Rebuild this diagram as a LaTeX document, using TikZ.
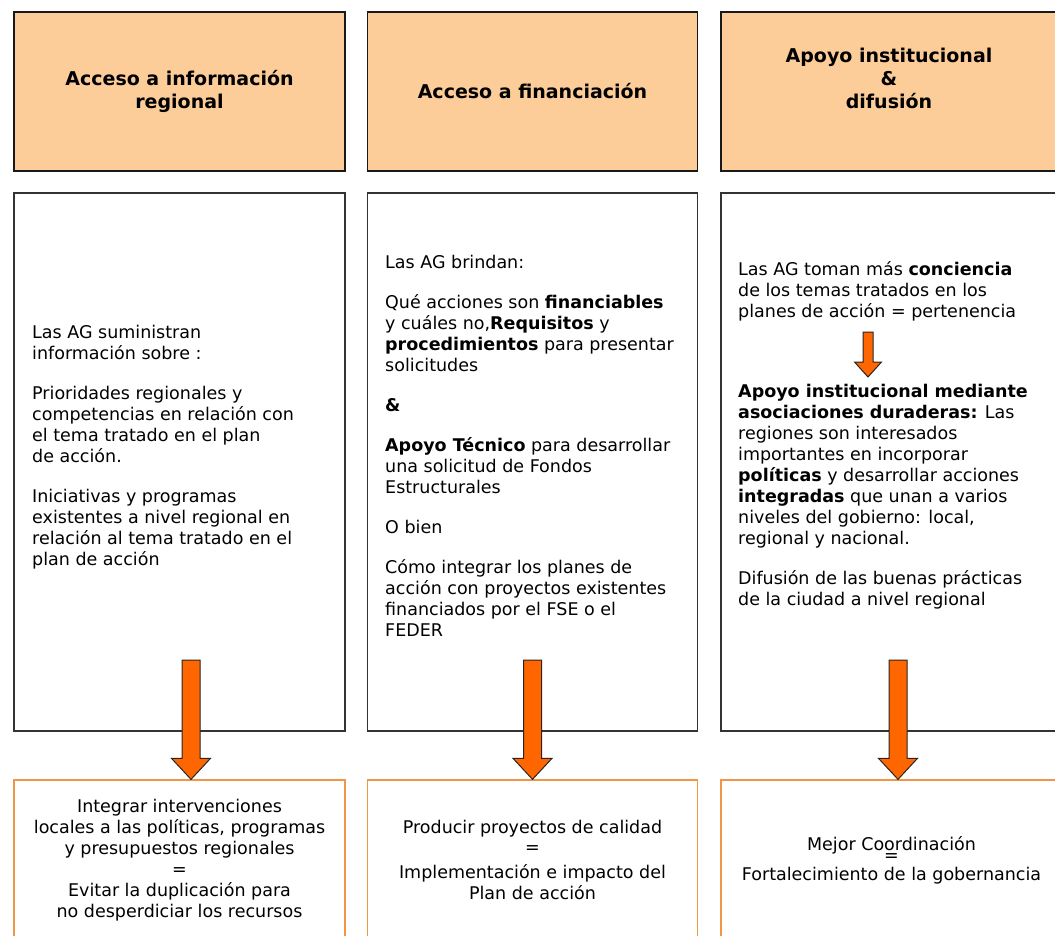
\documentclass[tikz,border=0pt]{standalone}
\usepackage{fontspec}
\setmainfont{DejaVu Sans}
\usetikzlibrary{calc}
\definecolor{melocoton}{RGB}{252,204,153}
\definecolor{naranja}{RGB}{255,102,0}
\definecolor{naranjaclaro}{RGB}{240,150,70}
\tikzstyle{every picture} = [x=1pt,y=-1pt]
\tikzstyle{cabecera} = [draw=black!90,line width=1.5pt,fill=melocoton,minimum width=331,minimum height=159,inner sep=0,align=center,font=\fontsize{19}{23}\selectfont\bfseries]
\tikzstyle{cabtexto} = [inner sep=0,align=center,font=\fontsize{19}{23}\selectfont\bfseries]
\tikzstyle{caja} = [draw=black!80,line width=1.2pt,fill=white,minimum width=331,minimum height=538,inner sep=0]
\tikzstyle{resultado} = [draw=naranjaclaro,line width=1.3pt,minimum width=331,minimum height=160,inner sep=0,align=center,font=\fontsize{17.5}{21}\selectfont]
\tikzstyle{texto} = [anchor=north west,inner sep=0,align=left,font=\fontsize{17.5}{21}\selectfont]
\tikzstyle{flecha} = [draw=black!85,line width=1pt,fill=naranja,line join=miter]
% block arrow: start, tip, half shaft, half head, head length
\newcommand{\bloque}[5]{\draw[flecha] let \p1=(#1), \p2=(#2) in (\x1-#3,\y1) -- (\x1+#3,\y1) -- (\x1+#3,\y2+#5) -- (\x1+#4,\y2+#5) -- (\x1,\y2) -- (\x1-#4,\y2+#5) -- (\x1-#3,\y2+#5) -- cycle;}

\begin{document}
\begin{tikzpicture}
			\useasboundingbox (0,0) rectangle (1055,935);
			\clip (0,0) rectangle (1055,935);

			\node (cab 1) at(179.5,91.5) [cabecera] {Acceso a información\\regional};
			\node (cab 2) at(532.5,91.5) [cabecera,minimum width=330] {Acceso a financiación};
			\node (cab 3) at(891.5,91.5) [cabecera,minimum width=341] {};
			\node (cab 3 texto) at(889,78) [cabtexto] {Apoyo institucional\\\&\\difusión};

			\node (caja 1) at(179.5,462) [caja] {};
			\node (caja 2) at(532.5,462) [caja,minimum width=330] {};
			\node (caja 3) at(891.5,462) [caja,minimum width=341] {};

			\node (texto 1) at(32,325) [texto] {Las AG suministran\\información sobre :\\[19pt]Prioridades regionales y\\competencias en relación con\\el tema tratado en el plan\\de acción.\\[19pt]Iniciativas y programas\\existentes a nivel regional en\\relación al tema tratado en el\\plan de acción};
			\node (texto 2) at(385,255) [texto] {Las AG brindan:\\[19pt]Qué acciones son \textbf{financiables}\\y cuáles no,\textbf{Requisitos} y\\\textbf{procedimientos} para presentar\\solicitudes\\[19pt]\textbf{\&}\\[19pt]\textbf{Apoyo Técnico} para desarrollar\\una solicitud de Fondos\\Estructurales\\[19pt]O bien\\[19pt]Cómo integrar los planes de\\acción con proyectos existentes\\financiados por el FSE o el\\FEDER};
			\node (texto 3a) at(738,261) [texto] {Las AG toman más \textbf{conciencia}\\de los temas tratados en los\\planes de acción = pertenencia};
			\node (texto 3b) at(738,384) [texto] {\textbf{Apoyo institucional mediante}\\\textbf{asociaciones duraderas:} Las\\regiones son interesados\\importantes en incorporar\\\textbf{políticas} y desarrollar acciones\\\textbf{integradas} que unan a varios\\niveles del gobierno: local,\\regional y nacional.\\[19pt]Difusión de las buenas prácticas\\de la ciudad a nivel regional};

			\node (res 1) at(179.5,860) [resultado] {Integrar intervenciones\\locales a las políticas, programas\\y presupuestos regionales\\=\\Evitar la duplicación para\\no desperdiciar los recursos};
			\node (res 2) at(532.5,860) [resultado,minimum width=330] {Producir proyectos de calidad\\[-1pt]=\\[4pt]Implementación e impacto del\\Plan de acción};
			\node (res 3) at(891.5,860) [resultado,minimum width=341] {Mejor Coordinación\\[-10pt]=\\[-2pt]Fortalecimiento de la gobernancia};

			\coordinate (f1) at(191,660);
			\coordinate (f2) at(532.5,660);
			\coordinate (f3) at(898,660);
			\coordinate (f3a) at(868,332);
			\coordinate (f3b) at(868,377);

			\bloque{f1}{res 1.north -| f1}{9pt}{19.5pt}{21pt}
			\bloque{f2}{res 2.north -| f2}{9pt}{19.5pt}{21pt}
			\bloque{f3}{res 3.north -| f3}{9pt}{19.5pt}{21pt}
			\bloque{f3a}{f3b}{5pt}{13.5pt}{15pt}

\end{tikzpicture}
\end{document}
